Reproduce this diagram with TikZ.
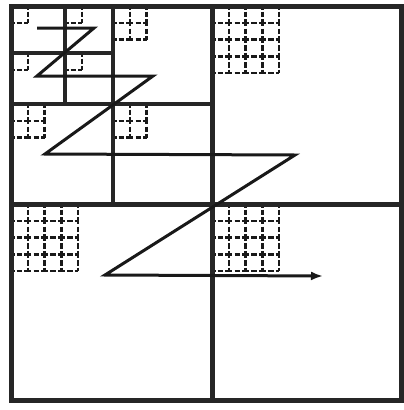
\documentclass[tikz,border=0pt]{standalone}
\usetikzlibrary{arrows.meta}
\tikzset{
  frameline/.style={line width=5pt, draw=black!85},
  splitone/.style={line width=5pt, draw=black!85},
  splittwo/.style={line width=4.6pt, draw=black!85},
  splitthree/.style={line width=4.2pt, draw=black!85},
  gridline/.style={line width=2.4pt, draw=black!90, dash pattern=on 7pt off 2.2pt on 5.4pt off 2.2pt, dash phase=3.5pt},
  zpath/.style={line width=3pt, draw=black!90, line join=miter},
}
\newcommand\blockgrid[3]{%
  \foreach \k in {1,...,#3} {
    \draw[gridline] ({#1+\k*16.8},{#2}) -- ({#1+\k*16.8},{#2+#3*16.8});
    \draw[gridline] ({#1},{#2+\k*16.8}) -- ({#1+#3*16.8},{#2+\k*16.8});
  }%
}
\begin{document}
\begin{tikzpicture}[x=1pt,y=-1pt]
\useasboundingbox (0,0) rectangle (404,410);
\fill[white] (0,0) rectangle (404,410);
% dashed block grids
\blockgrid{212}{6}{4}
\blockgrid{11}{204}{4}
\blockgrid{212}{204}{4}
\blockgrid{113}{6}{2}
\blockgrid{11}{104}{2}
\blockgrid{113}{104}{2}
\blockgrid{11}{6}{1}
\blockgrid{65}{6}{1}
\blockgrid{11}{53}{1}
\blockgrid{65}{53}{1}
% level 3 splits
\draw[splitthree] (65,6) -- (65,104);
\draw[splitthree] (11,53) -- (113,53);
% level 2 splits
\draw[splittwo] (113,6) -- (113,204);
\draw[splittwo] (11,104) -- (212,104);
% level 1 splits
\draw[splitone] (212,6) -- (212,400);
\draw[splitone] (11,204) -- (401,204);
% frame
\draw[frameline] (11,6) rectangle (401,400);
% Z-order path
\coordinate (p1) at (37,28);
\coordinate (p2) at (94,28);
\coordinate (p3) at (37,76);
\coordinate (p4) at (153,76);
\coordinate (p5) at (45,154);
\coordinate (p6) at (295,155);
\coordinate (p7) at (105,275);
\coordinate (p8) at (323,276);
\draw[zpath, -{Latex[length=12pt,width=9pt]}] (p1) -- (p2) -- (p3) -- (p4) -- (p5) -- (p6) -- (p7) -- (p8);
\end{tikzpicture}
\end{document}
